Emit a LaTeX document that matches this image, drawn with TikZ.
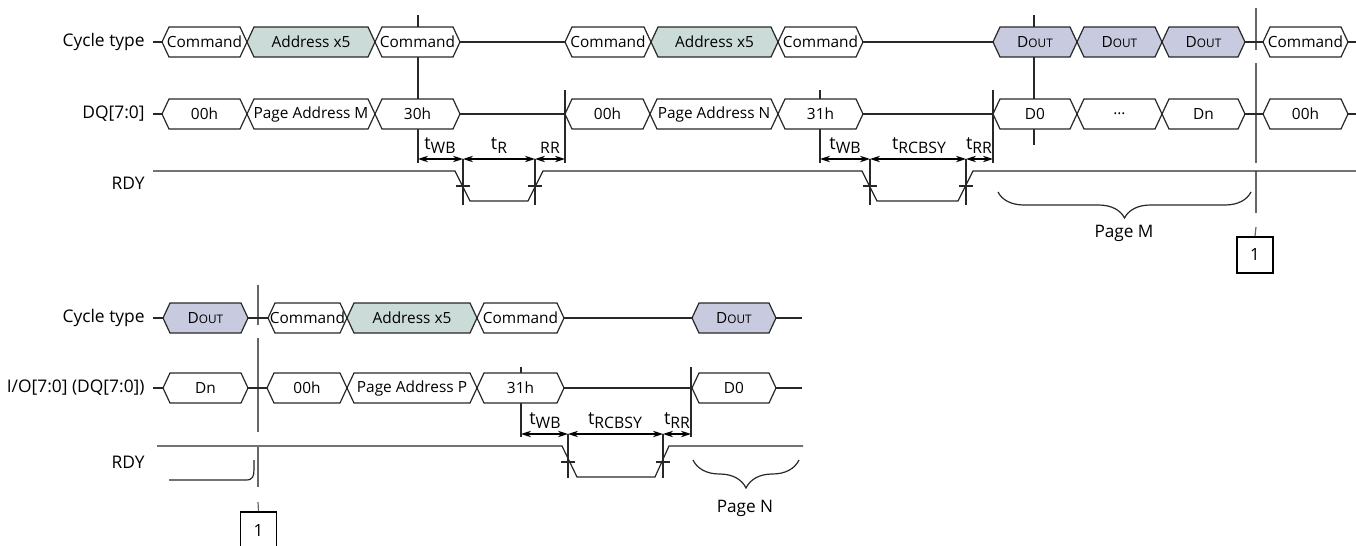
\documentclass[tikz,border=0pt]{standalone}
\usepackage{fontspec}
\setmainfont{Open Sans}
\usetikzlibrary{arrows.meta,decorations.pathreplacing,positioning}
\definecolor{addrfill}{RGB}{202,219,216}
\definecolor{doutfill}{RGB}{200,202,224}
\definecolor{sigline}{RGB}{40,40,40}
\newcommand{\subfont}{\fontsize{7.9}{8}\selectfont}
\newcommand{\tsub}[1]{t\raisebox{-0.45ex}{\subfont #1}}
\newcommand{\dout}{D{\fontsize{5.9}{7}\selectfont OUT}}
\tikzset{
  sig/.style={line width=0.6pt,draw=sigline},
  busbox/.style={sig,fill=white},
  addrbox/.style={sig,fill=addrfill},
  doutbox/.style={sig,fill=doutfill},
  bustxt/.style={font=\fontsize{7.7}{9}\selectfont,inner sep=0pt},
  rowlbl/.style={font=\fontsize{8.7}{10}\selectfont,anchor=east,inner sep=0pt},
  refln/.style={line width=0.6pt,draw=sigline},
  brkln/.style={line width=0.6pt,draw=black!60},
  dimarr/.style={{Stealth[length=5pt,width=3.2pt]}-{Stealth[length=5pt,width=3.2pt]},line width=0.6pt},
  dimlbl/.style={font=\fontsize{9}{10}\selectfont,anchor=south,inner sep=0.5pt},
  pgbrace/.style={sig,decorate,decoration={brace,amplitude=#1}},
  pglbl/.style={font=\fontsize{8.6}{10}\selectfont,inner sep=0pt},
  pgnum/.style={draw,line width=0.9pt,minimum width=18pt,minimum height=18pt,inner sep=0pt,font=\fontsize{8.4}{9}\selectfont},
}
% one bus segment: [style]{x left}{x right}{y}{name}{text}
\newcommand{\bushex}[6][busbox]{%
  \draw[#1] (#2,#4) -- (#2+\bsl,#4-\bhh) -- (#3-\bsl,#4-\bhh) -- (#3,#4)
    -- (#3-\bsl,#4+\bhh) -- (#2+\bsl,#4+\bhh) -- cycle;
  \node[bustxt] (#5) at ({(#2+#3)/2},#4) {#6};}

\begin{document}
\begin{tikzpicture}[x=0.5pt,y=-0.5pt]
  \useasboundingbox (0,0) rectangle (1356,546);
  \def\bsl{7}\def\bhh{15}
  % ---------------- upper sequence ----------------
  \node[rowlbl] (cyc1) at (145,42) {Cycle type};
  \node[rowlbl] (dq1) at (145,114) {DQ[7:0]};
  \node[rowlbl] (rdy1) at (145,183) {RDY};
  \foreach \x/\ta/\tb in {418/15/163,565/90/163,820/90/163,993/90/163,1034/15/145}
    \draw[refln] (\x,\ta) -- (\x,\tb);
  \foreach \ta/\tb in {8/50,63/163,171/213}
    \draw[brkln] (1256,\ta) -- (1256,\tb);
  \foreach \a/\b in {153/162,460/565,863/993,1245/1263,1348/1356}{
    \draw[sig] (\a,42) -- (\b,42);
    \draw[sig] (\a,114) -- (\b,114);
  }
  \foreach \a/\b/\s/\n/\t in {162/247/busbox/ca1/Command,247/375/addrbox/ca2/Address x5,
      375/460/busbox/ca3/Command,565/651/busbox/ca4/Command,651/778/addrbox/ca5/Address x5,
      778/863/busbox/ca6/Command,993/1077/doutbox/ca7/\dout,1077/1162/doutbox/ca8/\dout,
      1162/1245/doutbox/ca9/\dout,1263/1348/busbox/ca10/Command}
    \bushex[\s]{\a}{\b}{42}{\n}{\t};
  \foreach \a/\b/\n/\t in {162/247/da1/00h,247/375/da2/Page Address M,375/460/da3/30h,
      565/650/da4/00h,650/778/da5/Page Address N,778/863/da6/31h,993/1077/da7/D0,
      1077/1162/da8/\ldots,1162/1245/da9/Dn,1263/1348/da10/00h}
    \bushex{\a}{\b}{114}{\n}{\t};
  \draw[sig] (153,171) -- (455,171) -- (470,201) -- (528,201) -- (543,171)
    -- (862,171) -- (877,201) -- (958,201) -- (973,171) -- (1356,171);
  \foreach \x in {463,535,870,966}{
    \draw[refln] (\x,159) -- (\x,205);
    \draw[refln] (\x-7,186) -- (\x+7,186);
  }
  \draw[dimarr] (418,159) -- (463,159);
  \draw[dimarr] (463,159) -- (535,159);
  \draw[dimarr] (535,159) -- (565,159);
  \draw[dimarr] (820,159) -- (870,159);
  \draw[dimarr] (870,159) -- (966,159);
  \draw[dimarr] (966,159) -- (993,159);
  \node[dimlbl] (twb1) at (440,155) {\tsub{WB}};
  \node[dimlbl] (tr1) at (499,155) {\tsub{R}};
  \node[dimlbl] (trr1) at (550,155) {\vphantom{t}\raisebox{-0.45ex}{\subfont RR}};
  \node[dimlbl] (twb2) at (845,155) {\tsub{WB}};
  \node[dimlbl] (tbsy2) at (919,155) {\tsub{RCBSY}};
  \node[dimlbl] (trr2) at (979,155) {\tsub{RR}};
  \draw[pgbrace=13pt] (1251,192) -- (998,192);
  \node[pglbl] (pgm) at (1124,233) {Page M};
  \node[pgnum] (cont1) at (1255,255) {1};
  \draw[brkln] (1256,227) -- (cont1.north);
  % ---------------- lower sequence ----------------
  \node[rowlbl] (cyc2) at (145,318) {Cycle type};
  \node[rowlbl] (io2) at (145,388) {I/O[7:0] (DQ[7:0])};
  \node[rowlbl] (rdy2) at (145,462) {RDY};
  \foreach \x in {521,691}
    \draw[refln] (\x,367) -- (\x,437);
  \foreach \ta/\tb in {285/325,338/432,447/487}
    \draw[brkln] (258,\ta) -- (258,\tb);
  \foreach \a/\b in {153/163,248/268,564/692,776/802}{
    \draw[sig] (\a,318) -- (\b,318);
    \draw[sig] (\a,388) -- (\b,388);
  }
  \foreach \a/\b/\s/\n/\t in {163/248/doutbox/cb1/\dout,268/347/busbox/cb2/Command,
      347/477/addrbox/cb3/Address x5,477/564/busbox/cb4/Command,692/776/doutbox/cb5/\dout}
    \bushex[\s]{\a}{\b}{318}{\n}{\t};
  \foreach \a/\b/\n/\t in {163/248/db1/Dn,267/347/db2/00h,347/477/db3/Page Address P,
      477/564/db4/31h,692/776/db5/D0}
    \bushex{\a}{\b}{388}{\n}{\t};
  \draw[sig] (157,446) -- (562,446) -- (577,477) -- (655,477) -- (669,446) -- (803,446);
  \foreach \x in {568,663}{
    \draw[refln] (\x,434) -- (\x,478);
    \draw[refln] (\x-7,462) -- (\x+7,462);
  }
  \draw[dimarr] (521,434) -- (568,434);
  \draw[dimarr] (568,434) -- (663,434);
  \draw[dimarr] (663,434) -- (691,434);
  \node[dimlbl] (twb3) at (545,430) {\tsub{WB}};
  \node[dimlbl] (tbsy3) at (615,430) {\tsub{RCBSY}};
  \node[dimlbl] (trr3) at (677,430) {\tsub{RR}};
  \draw[sig] (169,480) -- (246,480) .. controls (253,480) and (254,476) .. (254,469) -- (254,460);
  \draw[pgbrace=14pt] (799,460) -- (693,460);
  \node[pglbl] (pgn) at (745,508) {Page N};
  \node[pgnum] (cont2) at (258.5,530) {1};
  \draw[brkln] (258,502) -- (cont2.north);
\end{tikzpicture}
\end{document}
